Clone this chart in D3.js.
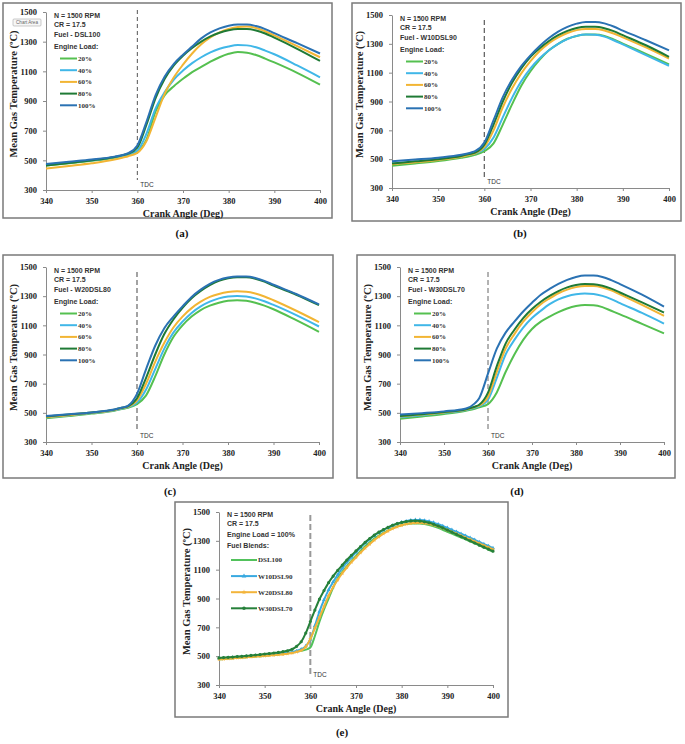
<!DOCTYPE html>
<html><head><meta charset="utf-8">
<script src="https://cdn.jsdelivr.net/npm/d3@7"></script>
<style>body{margin:0;background:#fff}</style></head>
<body><svg id="c" width="685" height="744"></svg>
<script>
// ---------- DATA ----------
const xTicks = [340, 350, 360, 370, 380, 390, 400];
const yTicks = [300, 500, 700, 900, 1100, 1300, 1500];
const loadLabels = ["20%", "40%", "60%", "80%", "100%"];
const blendLabels = ["DSL100", "W10DSL90", "W20DSL80", "W30DSL70"];
const fuelTitles = ["Fuel - DSL100", "Fuel - W10DSL90", "Fuel - W20DSL80", "Fuel - W30DSL70"];
const captions = ["(a)", "(b)", "(c)", "(d)", "(e)"];

// crank angles for panels (a)-(d)
const angles = [340,345,350,355,357,358,360,362,364,366,368,370,372,374,376,378,380,382,384,386,388,390,395,400];

// (a) DSL100
const a20  = [465,480,497,518,530,538,560,640,830,940,1000,1050,1095,1130,1165,1195,1218,1230,1226,1210,1186,1160,1090,1010];
const a40  = [470,485,500,520,532,540,565,680,850,960,1045,1105,1155,1195,1228,1252,1268,1277,1275,1262,1240,1215,1140,1060];
const a60  = [445,462,480,505,520,528,550,630,790,950,1060,1145,1220,1282,1328,1362,1386,1399,1402,1392,1370,1342,1270,1195];
const a80  = [465,482,500,522,537,545,585,740,920,1050,1140,1205,1257,1300,1335,1360,1377,1385,1385,1375,1355,1327,1252,1170];
const a100 = [475,490,505,525,538,548,600,760,940,1065,1150,1212,1267,1322,1362,1390,1408,1416,1416,1405,1385,1357,1290,1220];
// (b) W10DSL90
const b20  = [455,470,487,510,522,530,555,610,740,880,1010,1110,1190,1255,1300,1335,1355,1365,1365,1355,1330,1302,1230,1158];
const b40  = [470,482,497,518,532,540,570,650,790,925,1040,1130,1200,1255,1300,1333,1355,1365,1363,1350,1325,1296,1222,1148];
const b60  = [465,478,495,517,532,540,585,700,860,990,1095,1180,1250,1305,1345,1375,1395,1403,1403,1393,1372,1345,1275,1198];
const b80  = [470,485,500,522,537,545,600,740,900,1030,1130,1210,1270,1320,1360,1390,1410,1418,1418,1408,1388,1360,1290,1210];
const b100 = [485,497,510,530,545,555,615,770,930,1050,1145,1220,1285,1340,1385,1418,1440,1452,1452,1442,1420,1392,1325,1255];
// (c) W20DSL80
const c20  = [462,478,495,515,528,535,560,620,750,900,1020,1100,1160,1205,1235,1255,1268,1272,1268,1255,1235,1210,1135,1055];
const c40  = [468,482,498,518,532,540,570,660,800,940,1050,1125,1185,1230,1262,1285,1298,1302,1298,1285,1265,1240,1170,1092];
const c60  = [470,484,500,520,534,542,585,700,850,980,1085,1160,1218,1262,1295,1315,1328,1333,1330,1318,1298,1272,1200,1122];
const c80  = [475,488,502,522,537,545,600,740,900,1040,1140,1220,1285,1335,1375,1405,1422,1430,1430,1420,1400,1372,1310,1238];
const c100 = [478,490,503,523,538,548,630,800,960,1080,1160,1230,1295,1345,1385,1412,1428,1435,1435,1425,1405,1378,1315,1243];
// (d) W30DSL70
const d20  = [460,475,492,515,528,538,560,640,780,900,1000,1075,1125,1160,1190,1215,1232,1240,1238,1225,1200,1175,1110,1045];
const d40  = [470,484,500,520,535,545,590,740,900,1000,1085,1150,1200,1245,1278,1300,1313,1318,1315,1302,1280,1252,1185,1112];
const d60  = [475,488,503,523,540,550,610,780,940,1040,1125,1190,1245,1285,1320,1345,1362,1370,1370,1360,1340,1312,1240,1165];
const d80  = [478,490,505,525,542,555,638,820,975,1070,1150,1212,1262,1302,1335,1360,1376,1383,1382,1372,1352,1325,1258,1188];
const d100 = [488,498,510,530,565,600,769,940,1050,1125,1195,1255,1310,1350,1385,1412,1432,1442,1442,1432,1410,1383,1310,1228];

// (e) 100% load, 1-degree steps 340..400
const eAngles = d3.range(340, 401, 1);
const eDSL100 = [478,480,483,485,488,490,493,495,498,500,503,506,509,512,516,520,525,530,537,545,560,640,740,825,900,975,1040,1085,1125,1160,1195,1230,1262,1290,1315,1336,1355,1372,1388,1400,1410,1416,1420,1421,1420,1416,1410,1401,1390,1377,1363,1350,1337,1323,1310,1296,1282,1268,1254,1240,1225];
const eW10 = [485,487,489,491,494,496,498,501,503,506,508,511,513,516,519,523,528,536,548,570,615,710,810,890,960,1015,1065,1110,1150,1186,1220,1253,1285,1311,1335,1356,1375,1391,1405,1418,1428,1436,1442,1445,1445,1441,1435,1426,1415,1403,1390,1376,1363,1349,1335,1321,1307,1292,1278,1264,1250];
const eW20 = [478,480,483,485,488,490,493,495,498,500,502,505,507,510,513,517,522,530,540,565,620,695,770,845,920,980,1030,1075,1115,1152,1185,1218,1250,1278,1305,1328,1350,1368,1385,1397,1408,1416,1422,1424,1425,1422,1418,1410,1400,1388,1375,1362,1349,1336,1322,1309,1295,1281,1268,1254,1240];
const eW30 = [488,490,492,494,497,499,502,505,508,511,515,518,522,526,531,537,548,568,600,660,740,820,895,955,1010,1055,1095,1132,1167,1200,1230,1260,1290,1316,1340,1360,1378,1394,1408,1419,1428,1434,1438,1439,1437,1432,1425,1415,1403,1390,1375,1360,1345,1330,1315,1300,1285,1270,1256,1242,1228];

// ---------- DRAW ----------
const loadColors = ["#55c050", "#40b7e8", "#f2b534", "#1f7a35", "#2a72b3"];
const blendColors = ["#52c25c", "#38a9e0", "#f3b43a", "#26803a"];
const SERIF = "'Liberation Serif','Times New Roman',serif";
const SANS = "'Liberation Sans',Arial,sans-serif";

const svg = d3.select('#c');
svg.append('rect').attr('width', 685).attr('height', 744).attr('fill', '#fff');

function drawPanel(p) {
  const g = svg.append('g');
  g.append('rect')
    .attr('x', p.box[0]).attr('y', p.box[1])
    .attr('width', p.box[2] - p.box[0]).attr('height', p.box[3] - p.box[1])
    .attr('fill', '#fff').attr('stroke', '#7a7a7a').attr('stroke-width', 1.5);
  const [px0, py0, px1, py1] = p.plot;
  const x = d3.scaleLinear().domain([340, 400]).range([px0, px1]);
  const y = d3.scaleLinear().domain([300, 1500]).range([py1, py0]);

  const ya = g.append('g').attr('transform', `translate(${px0},0)`)
    .call(d3.axisLeft(y).tickValues(yTicks).tickFormat(d3.format('d')).tickSize(3).tickSizeOuter(0).tickPadding(6));
  const xa = g.append('g').attr('transform', `translate(0,${py1})`)
    .call(d3.axisBottom(x).tickValues(xTicks).tickFormat(d3.format('d')).tickSize(3).tickSizeOuter(0).tickPadding(5));
  [ya, xa].forEach(a => {
    a.select('.domain').attr('stroke', '#8a8a8a').attr('stroke-width', 1);
    a.selectAll('.tick line').attr('stroke', '#8a8a8a');
    a.selectAll('text').attr('font-family', SERIF).attr('font-weight', 'bold')
      .attr('font-size', 8.5).attr('fill', '#222');
  });

  // TDC line
  g.append('line')
    .attr('x1', x(360)).attr('x2', x(360))
    .attr('y1', py0 + p.tdcTop).attr('y2', py1 - 10)
    .attr('stroke', p.tdcColor).attr('stroke-width', p.tdcWidth)
    .attr('stroke-dasharray', p.tdcDash);
  g.append('text').attr('x', x(360) + 3).attr('y', py1 - p.tdcLabelUp)
    .attr('font-family', SANS).attr('font-size', 6.5).attr('fill', '#333')
    .text('TDC');

  // series
  const line = xs => d3.line().x((d, i) => x(xs[i])).y(d => y(d)).curve(d3.curveMonotoneX);
  p.series.forEach(s => {
    g.append('path').attr('d', line(p.xs)(s.values))
      .attr('fill', 'none').attr('stroke', s.color).attr('stroke-width', 2);
    if (s.marker) {
      const sym = d3.symbol().type(s.marker.type).size(s.marker.size);
      g.append('g').selectAll('path').data(s.values).join('path')
        .attr('transform', (d, i) => `translate(${x(p.xs[i])},${y(d)})`)
        .attr('d', sym()).attr('fill', s.color);
    }
  });

  // header text
  p.header.forEach((t, i) => {
    g.append('text').attr('x', px0 + 8).attr('y', py0 + p.headerOff[i])
      .attr('dy', '0.35em').attr('font-family', SANS).attr('font-weight', 'bold')
      .attr('font-size', 7).attr('fill', '#333').text(t);
  });
  // legend
  p.series.forEach((s, i) => {
    const ly = py0 + p.legOff + i * p.legStep;
    g.append('line').attr('x1', px0 + p.legX[0]).attr('x2', px0 + p.legX[1])
      .attr('y1', ly).attr('y2', ly).attr('stroke', s.color).attr('stroke-width', 2);
    if (s.marker) {
      const sym = d3.symbol().type(s.marker.type).size(s.marker.size * 1.3);
      g.append('path').attr('transform', `translate(${px0 + (p.legX[0] + p.legX[1]) / 2},${ly})`)
        .attr('d', sym()).attr('fill', s.color);
    }
    g.append('text').attr('x', px0 + p.legX[1] + 1).attr('y', ly).attr('dy', '0.35em')
      .attr('font-family', SERIF).attr('font-weight', 'bold').attr('font-size', 7)
      .attr('fill', '#333').text(s.label);
  });

  // axis titles
  g.append('text').attr('transform', `translate(${px0 - 32.5},${(py0 + py1) / 2 - 7}) rotate(-90)`)
    .attr('text-anchor', 'middle').attr('dy', '0.35em')
    .attr('font-family', SERIF).attr('font-weight', 'bold').attr('font-size', 10.5).attr('fill', '#222')
    .text('Mean Gas Temperature (\u00BAC)');
  g.append('text').attr('x', (px0 + px1) / 2).attr('y', py1 + 23).attr('dy', '0.35em')
    .attr('text-anchor', 'middle')
    .attr('font-family', SERIF).attr('font-weight', 'bold').attr('font-size', 10).attr('fill', '#222')
    .text('Crank Angle (Deg)');
  // caption
  g.append('text').attr('x', p.caption[1]).attr('y', p.caption[2]).attr('dy', '0.35em')
    .attr('text-anchor', 'middle')
    .attr('font-family', SERIF).attr('font-weight', 'bold').attr('font-size', 11).attr('fill', '#111')
    .text(p.caption[0]);
  return g;
}

const loadPanels = [
  { vals: [a20, a40, a60, a80, a100], box: [3, 3, 332, 218], plot: [46, 12, 320, 190], cap: [182, 233], tdcTop: -2, tdcColor: '#555', tdcWidth: 1, tdcDash: '4,3', tdcLabelUp: 3 },
  { vals: [b20, b40, b60, b80, b100], box: [352, 3, 681, 221], plot: [392, 15, 669, 188], cap: [520, 233], tdcTop: 5, tdcColor: '#666', tdcWidth: 1.3, tdcDash: '5,3', tdcLabelUp: 4 },
  { vals: [c20, c40, c60, c80, c100], box: [3, 255, 333, 478], plot: [46, 267, 319, 442], cap: [170, 491], tdcTop: 5, tdcColor: '#999', tdcWidth: 1.8, tdcDash: '5,3', tdcLabelUp: 4 },
  { vals: [d20, d40, d60, d80, d100], box: [357, 255, 675, 478], plot: [400, 267, 664, 442], cap: [517, 491], tdcTop: 5, tdcColor: '#666', tdcWidth: 1, tdcDash: '5,3', tdcLabelUp: 4 }
];

loadPanels.forEach((lp, k) => {
  drawPanel({
    box: lp.box, plot: lp.plot, xs: angles,
    series: lp.vals.map((v, i) => ({ values: v, color: loadColors[i], label: loadLabels[i] })),
    header: ["N = 1500 RPM", "CR = 17.5", fuelTitles[k], "Engine Load:"],
    headerOff: [3.5, 13, 23, 34.5], legOff: 46.5, legStep: 11.7, legX: [14, 31],
    caption: [captions[k], lp.cap[0], lp.cap[1]],
    tdcTop: lp.tdcTop, tdcColor: lp.tdcColor, tdcWidth: lp.tdcWidth, tdcDash: lp.tdcDash, tdcLabelUp: lp.tdcLabelUp
  });
});

const eMarkers = [null, { type: d3.symbolTriangle, size: 7 }, { type: d3.symbolStar, size: 6 }, { type: d3.symbolCircle, size: 8 }];
drawPanel({
  box: [175, 502, 508, 717], plot: [219, 512, 493, 685], xs: eAngles,
  series: [eDSL100, eW10, eW20, eW30].map((v, i) => ({ values: v, color: blendColors[i], label: blendLabels[i], marker: eMarkers[i] })),
  header: ["N = 1500 RPM", "CR = 17.5", "Engine Load = 100%", "Fuel Blends:"],
  headerOff: [2.5, 11.5, 23, 33.7], legOff: 48, legStep: 16.1, legX: [12, 38],
  caption: [captions[4], 342, 732],
  tdcTop: 3, tdcColor: '#999', tdcWidth: 2, tdcDash: '6,3', tdcLabelUp: 8
});

// "Chart Area" tooltip seen in panel (a)
const tip = svg.append('g');
tip.append('rect').attr('x', 13).attr('y', 19).attr('width', 28).attr('height', 7).attr('rx', 1)
  .attr('fill', '#f7f7f7').attr('stroke', '#aaa').attr('stroke-width', 0.6);
tip.append('text').attr('x', 27).attr('y', 22.6).attr('dy', '0.35em').attr('text-anchor', 'middle')
  .attr('font-family', SANS).attr('font-size', 4.6).attr('fill', '#666').text('Chart Area');
</script>
</body></html>
